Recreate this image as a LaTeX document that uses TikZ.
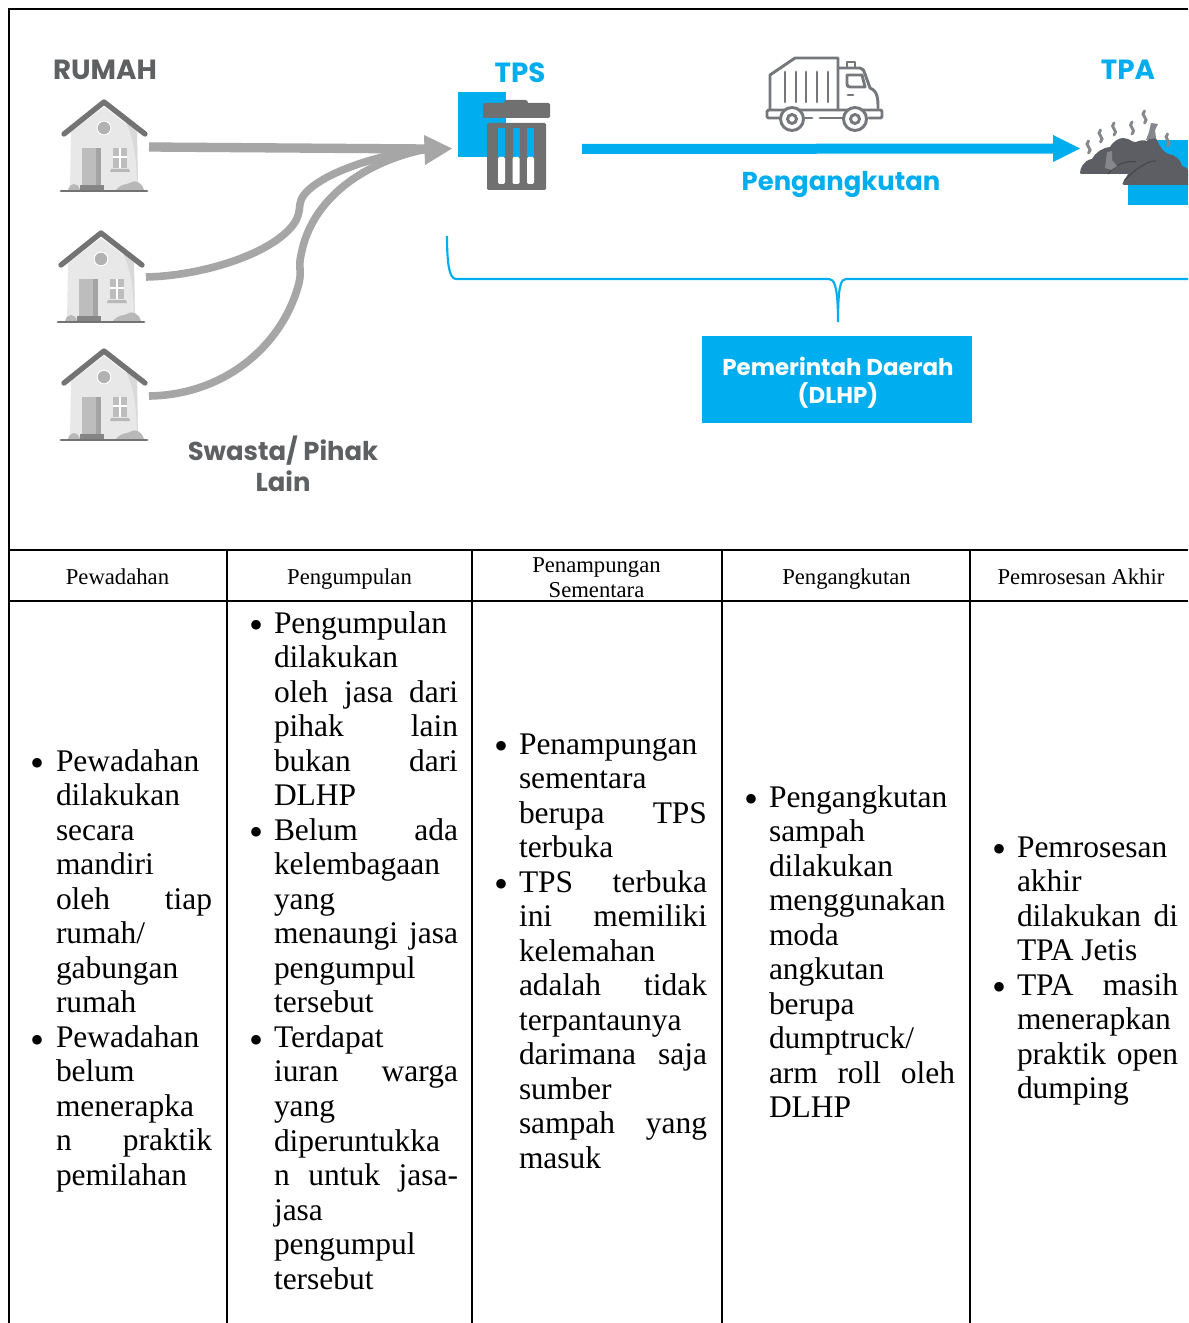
\documentclass[tikz,border=0pt]{standalone}
\usepackage{fontspec}
\setmainfont{Liberation Serif}
\newfontfamily\hdf{Poppins}
\usetikzlibrary{calc}
\definecolor{sky}{HTML}{00AEEF}
\definecolor{arrowgray}{HTML}{A6A6A6}
\definecolor{labelgray}{HTML}{5F6062}
\definecolor{iconink}{HTML}{75777A}
\definecolor{binink}{HTML}{707070}
\definecolor{pile}{HTML}{5C5E63}
\definecolor{pilelight}{HTML}{85878B}
\newdimen\cw
\newcommand\Lf[1]{\hbox{#1}}
\newcommand\Jf[1]{\hbox to \cw{#1}}
\newcommand\Bul{\llap{\raisebox{-4.3pt}{\fontsize{30pt}{30pt}\selectfont\textbullet}\hskip 8.25pt}}
\newcommand\Bf[1]{\hbox{\Bul #1}}
\newcommand\BJ[1]{\hbox to \cw{\Bul #1}}
\newcommand\cellbox[2]{\cw=#1\vtop{\fontsize{23.6pt}{25.9pt}\selectfont\baselineskip=25.9pt\lineskiplimit=-30pt #2}}
\tikzset{
  x=.75pt,y=-.75pt,
  grid line/.style={draw=black,line width=1.7pt},
  feeder/.style={draw=arrowgray,line width=5.7pt},
  cell/.style={inner sep=0pt,outer sep=0pt,anchor=base west,text=black},
  head/.style={inner sep=0pt,anchor=base,text=black,font=\fontsize{17pt}{20pt}\selectfont},
  graytitle/.style={inner sep=0pt,anchor=base,text=labelgray,font=\hdf\bfseries\fontsize{19.4pt}{24pt}\selectfont},
  bluetitle/.style={inner sep=0pt,anchor=base,text=sky,font=\hdf\bfseries\fontsize{19.4pt}{24pt}\selectfont},
  bigblue/.style={bluetitle,font=\hdf\bfseries\fontsize{20.8pt}{24pt}\selectfont},
  whitetitle/.style={inner sep=0pt,anchor=base,text=white,font=\hdf\bfseries\fontsize{17.2pt}{21pt}\selectfont},
  truckline/.style={draw=iconink,line width=2.2pt,line join=round,line cap=round},
  steamline/.style={draw=pilelight,line width=2.2pt,line cap=round},
  pics/house/.style={code={
    \fill[fill=black!9] (-33,33) -- (0,8) -- (33,33) -- (34,91) -- (-34,91) -- cycle;
    \fill[fill=black!15] (18,16) .. controls (30,35) and (33,60) .. (33,91) -- (34,91) -- (33,33) -- cycle;
    \fill[black!30] (0,29) circle (7.5);
    \draw[white,line width=.9pt] (0,29) circle (7);
    \fill[black!26] (-22,49) rectangle (-8,90);
    \fill[black!36] (-8,49) rectangle (-3,90);
    \fill[black!48] (-24,86) rectangle (0,91);
    \fill[black!26] (9,49) rectangle (23,69);
    \draw[white,line width=1.1pt] (16,49) -- (16,69) (9,58) -- (23,58);
    \fill[black!28] (6,73) -- (7,70) -- (25,70) -- (26,73) -- cycle;
    \fill[black!28] (-36,91) .. controls (-34,83) and (-26,83) .. (-24,91) -- cycle;
    \fill[black!28] (12,91) .. controls (18,84) and (22,86) .. (26,84) .. controls (32,80) and (38,84) .. (40,91) -- cycle;
    \draw[black!55,line width=2.2pt,line cap=round] (-43,92) -- (43,92);
    \draw[black!55,line width=4pt,line cap=round,line join=round] (-40,35) -- (0,3) -- (41,35);
  }},
  pics/steam/.style={code={
    \draw[steamline] (0,0) .. controls (-2,2) and (-2,4) .. (0,6) .. controls (2,8) and (2,10) .. (0,12);
  }}
}
\begin{document}
\begin{tikzpicture}
\clip (0,0) rectangle (1188,1323);
\fill[white] (0,0) rectangle (1188,1323);

% houses
\pic at (104,99) {house};
\pic at (101,230) {house};
\pic at (104,348) {house};

% feeders
\coordinate (r1) at (149,147);
\coordinate (r2) at (146,277);
\coordinate (r3) at (149,396);
\coordinate (tpsin) at (427,149);
\draw[feeder,line width=7pt] (r1) -- (tpsin);
\draw[feeder] (r2) .. controls (200,276) and (270,255) .. (293,225) .. controls (299,217) and (299,212) .. (300,204) .. controls (303,180) and (370,155) .. (tpsin);
\draw[feeder] (r3) .. controls (225,395) and (283,345) .. (299,283) .. controls (302,270) and (298,268) .. (301,255) .. controls (312,195) and (370,160) .. (tpsin);
\fill[arrowgray] (424,135) -- (452,148.5) -- (425,165) -- cycle;

% titles left
\node[graytitle,font=\hdf\bfseries\fontsize{20.8pt}{24pt}\selectfont] (rumah) at (105,79.5) {RUMAH};
\node[graytitle] (swasta) at (283,460) {Swasta/ Pihak};
\node[graytitle] (lain) at (283,491) {Lain};

% TPS
\node[bigblue] (tps) at (520,83) {TPS};
\fill[sky] (458,92) rectangle (506,157);
\fill[binink,rounded corners=1pt] (483,103) rectangle (550,118);
\fill[binink,rounded corners=2pt] (504,100) rectangle (528,106);
\fill[binink,rounded corners=1pt] (487,123) rectangle (546,190);
\foreach \sx in {498,512.5,527}{
  \fill[sky] (\sx,128) rectangle +(7,29);
  \fill[white,rounded corners=1pt] (\sx,157) rectangle +(7,27);
}

% transport arrow
\coordinate (tpsout) at (582,149);
\coordinate (tpain) at (1054,148.5);
\draw[sky,line width=7.5pt] (tpsout) -- (tpain);
\fill[sky] (1053,135) -- (1080,148.5) -- (1053,162) -- cycle;
\node[bluetitle] (angkut) at (841,190.5) {Pengangkutan};

% truck
\draw[truckline] (838,110) -- (838,58) -- (795,58) -- (770,75) -- (770,110);
\foreach \sx in {785,796,806,817,828}{\draw[truckline] (\sx,72) -- (\sx,102);}
\draw[truckline] (838,68) -- (860,68) .. controls (863,68) and (864,71) .. (865,74) -- (870,88) .. controls (878,91) and (878,100) .. (878,108);
\draw[truckline] (847,75) -- (862,75) -- (865,87) -- (850,87) .. controls (848,87) and (847,86) .. (847,84) -- cycle;
\draw[truckline] (847,67) -- (847,62) -- (855,62) -- (855,67);
\draw[truckline] (848,95) -- (853,95);
\draw[truckline,rounded corners=1pt] (780,118) -- (767,118) -- (767,110) -- (882,110) -- (882,118) -- (869,118);
\draw[truckline] (805,118) -- (812,118) (820,118) -- (842,118);
\draw[truckline,fill=white] (792,119) circle (11.5);
\draw[truckline,fill=white] (855,119) circle (11.5);
\draw[truckline] (792,119) circle (4.5);
\draw[truckline] (855,119) circle (4.5);

% TPA
\node[bigblue] (tpa) at (1128,80) {TPA};
\fill[sky] (1128,140) rectangle (1188,205);
\fill[white] (1128,140) rectangle (1151,172);
\fill[pile] (1080,173) .. controls (1080,168) and (1084,160) .. (1092,159)
  .. controls (1096,152) and (1102,148) .. (1110,147)
  .. controls (1114,140) and (1122,136) .. (1128,139)
  .. controls (1132,141) and (1134,143) .. (1136,142)
  .. controls (1140,140) and (1144,140) .. (1147,141)
  .. controls (1148,135) and (1155,135) .. (1157,140)
  .. controls (1160,148) and (1164,152) .. (1168,154)
  .. controls (1176,155) and (1181,160) .. (1182,166)
  .. controls (1185,167) and (1187,168) .. (1188,170)
  -- (1188,185) -- (1125,185) .. controls (1122,185) and (1122,183) .. (1124,181)
  -- (1128,174) -- (1084,174) .. controls (1081,174) and (1080,174) .. (1080,173) -- cycle;
\draw[pile!75!black,line width=.8pt] (1124,181) .. controls (1134,170) and (1148,160) .. (1156,161);
\draw[pile!75!black,line width=.8pt] (1108,174) .. controls (1114,166) and (1124,160) .. (1136,162);
\fill[pilelight] (1107,152) -- (1112,151) -- (1112,160) -- (1117,166) -- (1111,170) -- (1105,168) -- cycle;
\fill[pilelight] (1151,123) -- (1158,124) -- (1155,130) -- (1156,138) -- (1146,140) -- (1149,132) -- cycle;
\pic at (1088.5,141) {steam};
\pic at (1100.5,130) {steam};
\pic at (1114,123) {steam};
\pic at (1132,122) {steam};
\pic at (1144.5,111) {steam};
\pic at (1167.5,134) {steam};

% bracket
\coordinate (bl) at (447,236);
\coordinate (bc) at (838,322);
\coordinate (br) at (1188,279);
\draw[sky,line width=1.6pt] (bl) .. controls (447,262) and (449,279) .. (456,279) -- (829,279) .. controls (834,279) and (838,285) .. (bc) .. controls (838,285) and (841,279) .. (846,279) -- (br);

% box
\node[fill=sky,minimum width=202.5pt,minimum height=65.25pt,inner sep=0pt,anchor=north west] (dlhp) at (702,336) {};
\node[whitetitle] (dlhp1) at (838,375) {Pemerintah Daerah};
\node[whitetitle] (dlhp2) at (838,403) {(DLHP)};

% table grid
\draw[grid line] (9,1323) -- (9,9) -- (1188,9);
\draw[grid line] (9,550) -- (1188,550);
\draw[grid line] (9,601) -- (1188,601);
\foreach \gx in {227,472,722,970}{\draw[grid line] (\gx,550) -- (\gx,1323);}

% headers
\node[head] (h1) at (117.5,584.5) {Pewadahan};
\node[head] (h2) at (349.5,584.5) {Pengumpulan};
\node[head] (h3a) at (596.5,572) {Penampungan};
\node[head] (h3b) at (596.5,597) {Sementara};
\node[head] (h4) at (846.5,584.5) {Pengangkutan};
\node[head] (h5) at (1081,584.5) {Pemrosesan Akhir};

% cells
\node[cell] (c1) at (56,771) {\cellbox{117pt}{%
\Bf{Pewadahan}
\Lf{dilakukan}
\Lf{secara}
\Lf{mandiri}
\Jf{oleh\hfill tiap}
\Lf{rumah/}
\Lf{gabungan}
\Lf{rumah}
\Bf{Pewadahan}
\Lf{belum}
\Lf{menerapka}
\Jf{n\hfill praktik}
\Lf{pemilahan}}};

\node[cell] (c2) at (274,633) {\cellbox{138pt}{%
\Bf{Pengumpulan}
\Lf{dilakukan}
\Jf{oleh\hfill jasa\hfill dari}
\Jf{pihak\hfill lain}
\Jf{bukan\hfill dari}
\Lf{DLHP}
\BJ{Belum\hfill ada}
\Lf{kelembagaan}
\Lf{yang}
\Jf{menaungi\hfill jasa}
\Lf{pengumpul}
\Lf{tersebut}
\Bf{Terdapat}
\Jf{iuran\hfill warga}
\Lf{yang}
\Lf{diperuntukka}
\Jf{n\hfill untuk\hfill jasa-}
\Lf{jasa}
\Lf{pengumpul}
\Lf{tersebut}}};

\node[cell] (c3) at (519,754) {\cellbox{141pt}{%
\Bf{Penampungan}
\Lf{sementara}
\Jf{berupa\hfill TPS}
\Lf{terbuka}
\BJ{TPS\hfill terbuka}
\Jf{ini\hfill memiliki}
\Lf{kelemahan}
\Jf{adalah\hfill tidak}
\Lf{terpantaunya}
\Jf{darimana\hfill saja}
\Lf{sumber}
\Jf{sampah\hfill yang}
\Lf{masuk}}};

\node[cell] (c4) at (769,807) {\cellbox{139.5pt}{%
\Bf{Pengangkutan}
\Lf{sampah}
\Lf{dilakukan}
\Lf{menggunakan}
\Lf{moda}
\Lf{angkutan}
\Lf{berupa}
\Lf{dumptruck/}
\Jf{arm\hfill roll\hfill oleh}
\Lf{DLHP}}};

\node[cell] (c5) at (1017,857) {\cellbox{120.75pt}{%
\Bf{Pemrosesan}
\Lf{akhir}
\Jf{dilakukan\hfill di}
\Lf{TPA Jetis}
\BJ{TPA\hfill masih}
\Lf{menerapkan}
\Jf{praktik\hfill open}
\Lf{dumping}}};
\end{tikzpicture}
\end{document}
